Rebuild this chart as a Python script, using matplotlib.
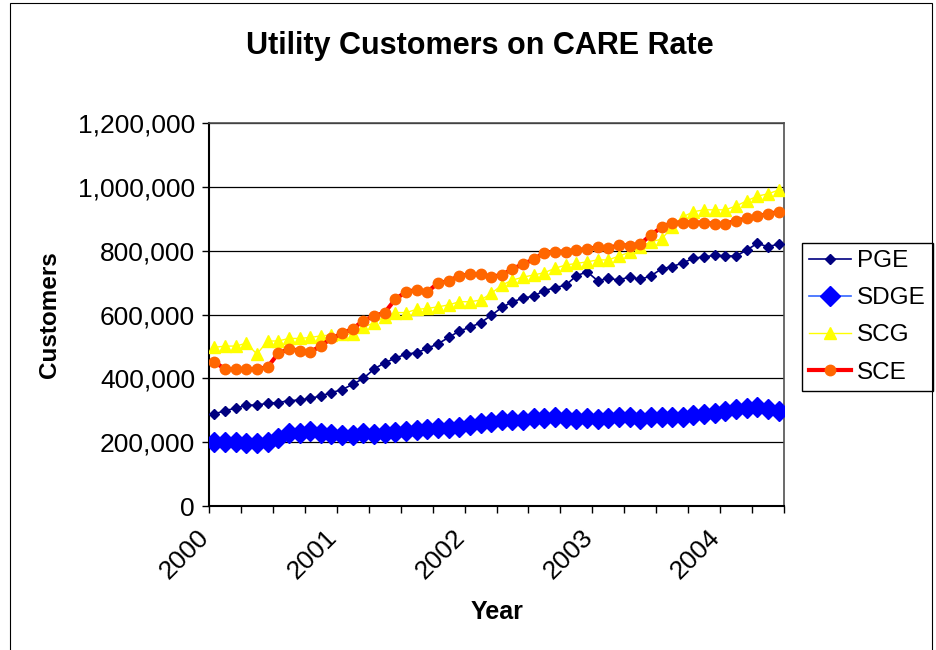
import matplotlib
matplotlib.use("Agg")
import matplotlib.pyplot as plt
from matplotlib.patches import Rectangle
from matplotlib.ticker import FuncFormatter, NullFormatter
from matplotlib.transforms import ScaledTranslation, blended_transform_factory
import numpy as np

plt.rcParams['font.family'] = ['Liberation Sans', 'DejaVu Sans']

# Monthly data, Jan 2000 .. Jun 2004 (54 months)
years = ["2000", "2001", "2002", "2003", "2004"]
pge = [288, 299, 306, 316, 316, 322, 324, 330, 332, 337,
       345, 355, 365, 381, 400, 429, 449, 463, 476, 480,
       494, 508, 528, 548, 560, 574, 597, 622, 640, 651,
       658, 675, 684, 692, 721, 734, 706, 713, 708, 718,
       710, 721, 743, 750, 762, 776, 781, 785, 784, 783,
       802, 823, 812, 821]
sdge = [201, 201, 201, 196, 196, 201, 212, 230, 230, 235,
        230, 226, 222, 222, 228, 226, 229, 233, 236, 238,
        240, 243, 243, 249, 254, 259, 262, 269, 269, 269,
        275, 276, 280, 275, 272, 275, 272, 275, 280, 280,
        272, 280, 280, 280, 278, 285, 288, 292, 299, 303,
        306, 311, 303, 299]
scg = [497, 501, 501, 510, 476, 517, 517, 525, 525, 528,
       533, 536, 538, 539, 560, 574, 593, 606, 606, 616,
       619, 624, 630, 640, 640, 645, 666, 692, 708, 717,
       724, 731, 745, 755, 760, 765, 771, 771, 783, 795,
       812, 828, 836, 875, 906, 922, 928, 928, 928, 940,
       956, 971, 978, 990]
sce = [452, 429, 429, 429, 429, 435, 478, 492, 487, 482,
       502, 525, 541, 555, 581, 595, 606, 648, 671, 677,
       671, 698, 705, 721, 726, 726, 718, 724, 743, 758,
       773, 794, 797, 797, 802, 805, 811, 807, 818, 816,
       821, 849, 873, 888, 888, 888, 888, 884, 884, 894,
       901, 909, 914, 922]

pge = np.array(pge) * 1000
sdge = np.array(sdge) * 1000
scg = np.array(scg) * 1000
sce = np.array(sce) * 1000
x = np.arange(len(pge))

fig = plt.figure(figsize=(9.36, 6.5), dpi=100)
fig.patches.append(Rectangle((10/936, -0.01), 922/936, 1 - 3/650 + 0.01,
                             transform=fig.transFigure, fill=False,
                             edgecolor='black', linewidth=0.8))
ax = fig.add_axes([209/936, 1 - 506/650, (784 - 209)/936, (506 - 123)/650])

ax.plot(x, pge, color='#000080', lw=1.2, marker='D', ms=5,
        mfc='#000080', mec='#000080', label='PGE', zorder=3)
ax.plot(x, sdge, color='#3366FF', lw=1.2, marker='D', ms=10,
        mfc='#0000FF', mec='#0000FF', label='SDGE', zorder=4)
ax.plot(x, scg, color='#FFFF00', lw=1.0, marker='^', ms=8,
        mfc='#FFFF00', mec='#FFFF00', label='SCG', zorder=5)
ax.plot(x, sce, color='#FF0000', lw=3.0, marker='o', ms=7.5,
        mfc='#FF6600', mec='#FF6600', label='SCE', zorder=6)

ax.set_xlim(-0.5, len(x) - 0.5)
ax.set_ylim(0, 1200000)
ax.set_yticks(np.arange(0, 1200001, 200000))
ax.yaxis.set_major_formatter(FuncFormatter(lambda v, p: f"{int(v):,}"))
ax.grid(axis='y', color='black', lw=0.9)
ax.set_axisbelow(True)

tick_pos = np.arange(-0.5, len(x), 3)
ax.set_xticks(tick_pos)
ax.xaxis.set_major_formatter(NullFormatter())

# year labels at every 12th month boundary, rotated 45 degrees
trans = blended_transform_factory(ax.transData, ax.transAxes) + \
    ScaledTranslation(-12/100, -19/100, fig.dpi_scale_trans)
for k, yr in enumerate(years):
    ax.text(12 * k - 0.5, 0, yr, transform=trans, rotation=45, ha='right',
            va='top', rotation_mode='anchor', fontsize=19)

ax.tick_params(axis='both', direction='out', length=5, width=1, labelsize=19,
               colors='black')
ax.tick_params(axis='y', pad=5)

for s in ['left', 'bottom']:
    ax.spines[s].set_color('black')
    ax.spines[s].set_linewidth(1.5)
for s in ['top', 'right']:
    ax.spines[s].set_color('#505050')
    ax.spines[s].set_linewidth(1.2)

fig.text(480/936, 1 - 46/650, "Utility Customers on CARE Rate", fontsize=22,
         fontweight='bold', ha='center', va='center')
ax.set_ylabel("Customers", fontsize=17.5, fontweight='bold', labelpad=12)
fig.text(497/936, 1 - 612/650, "Year", fontsize=18, fontweight='bold',
         ha='center', va='center')

leg = ax.legend(loc='upper left', bbox_to_anchor=(802/936, 1 - 243/650),
                bbox_transform=fig.transFigure, fontsize=17.5, frameon=True,
                fancybox=False, edgecolor='black', framealpha=1,
                handlelength=1.7, borderpad=0.3, labelspacing=0.62,
                handletextpad=0.25, borderaxespad=0)
leg.get_frame().set_linewidth(1.0)

fig.savefig("out.png", dpi=100)
